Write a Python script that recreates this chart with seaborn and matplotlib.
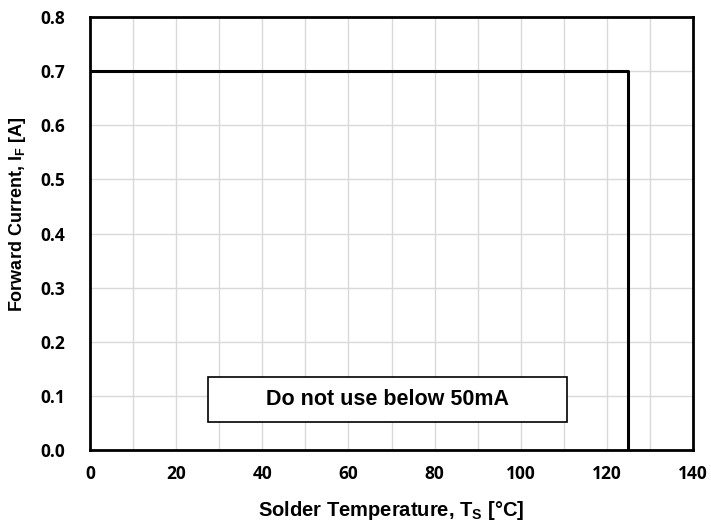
import matplotlib
matplotlib.use("Agg")
import matplotlib.pyplot as plt
import matplotlib.patches as patches
import seaborn as sns

# 數據：焊點溫度與允許順向電流
solder_temp = [0, 125, 125]
forward_current = [0.7, 0.7, 0.0]

x_ticks = [0, 20, 40, 60, 80, 100, 120, 140]
y_ticks = [0.0, 0.1, 0.2, 0.3, 0.4, 0.5, 0.6, 0.7, 0.8]
note_text = "Do not use below 50mA"

sns.set_theme(style="white")
plt.rcParams['font.family'] = ['Liberation Sans', 'DejaVu Sans']
plt.rcParams['mathtext.fontset'] = 'custom'
plt.rcParams['mathtext.rm'] = 'Liberation Sans:bold'
plt.rcParams['mathtext.it'] = 'Liberation Sans:bold'
plt.rcParams['mathtext.bf'] = 'Liberation Sans:bold'

fig = plt.figure(figsize=(7.11, 5.32), dpi=100)
ax = fig.add_axes([0.1266, 0.1541, 0.8481, 0.8139])

# estimator=None：不要對重複的 x 取平均
sns.lineplot(x=solder_temp, y=forward_current, sort=False, estimator=None,
             color='black', linewidth=2.2, ax=ax)

ax.set_xlim(0, 140)
ax.set_ylim(0, 0.8)
ax.set_xticks(x_ticks)
ax.set_xticks(range(0, 141, 10), minor=True)
ax.set_yticks(y_ticks)
ax.set_yticklabels([f"{v:.1f}" for v in y_ticks])
ax.grid(True, which='both', color='#d9d9d9', linewidth=1.0)
ax.set_axisbelow(True)

for s in ax.spines.values():
    s.set_color('black')
    s.set_linewidth(2.0)

ax.tick_params(axis='both', which='both', length=0)
ax.tick_params(axis='x', pad=11)
ax.tick_params(axis='y', pad=18)
for lbl in ax.get_xticklabels() + ax.get_yticklabels():
    lbl.set_fontfamily(['Open Sans', 'DejaVu Sans'])
    lbl.set_fontweight('bold')
    lbl.set_fontsize(12.5)
    lbl.set_color('black')

ax.set_xlabel("Solder Temperature, T$_\\mathregular{S}$ [\u00b0C]", fontsize=14.5,
              fontweight='bold', color='black', labelpad=11)
ax.set_ylabel("Forward Current, I$_\\mathregular{F}$ [A]", fontsize=13,
              fontweight='bold', color='black')
ax.yaxis.set_label_coords(-0.103, 0.545)

# 註記框
rect = patches.Rectangle((27.4, 0.052), 83.3, 0.083, facecolor='white',
                         edgecolor='black', linewidth=1.2, zorder=3)
ax.add_patch(rect)
ax.text(27.4 + 83.3 / 2, 0.0935, note_text, ha='center', va='center',
        fontsize=15.5, fontweight='bold', color='black', zorder=4)

fig.savefig("out.png", dpi=100)
